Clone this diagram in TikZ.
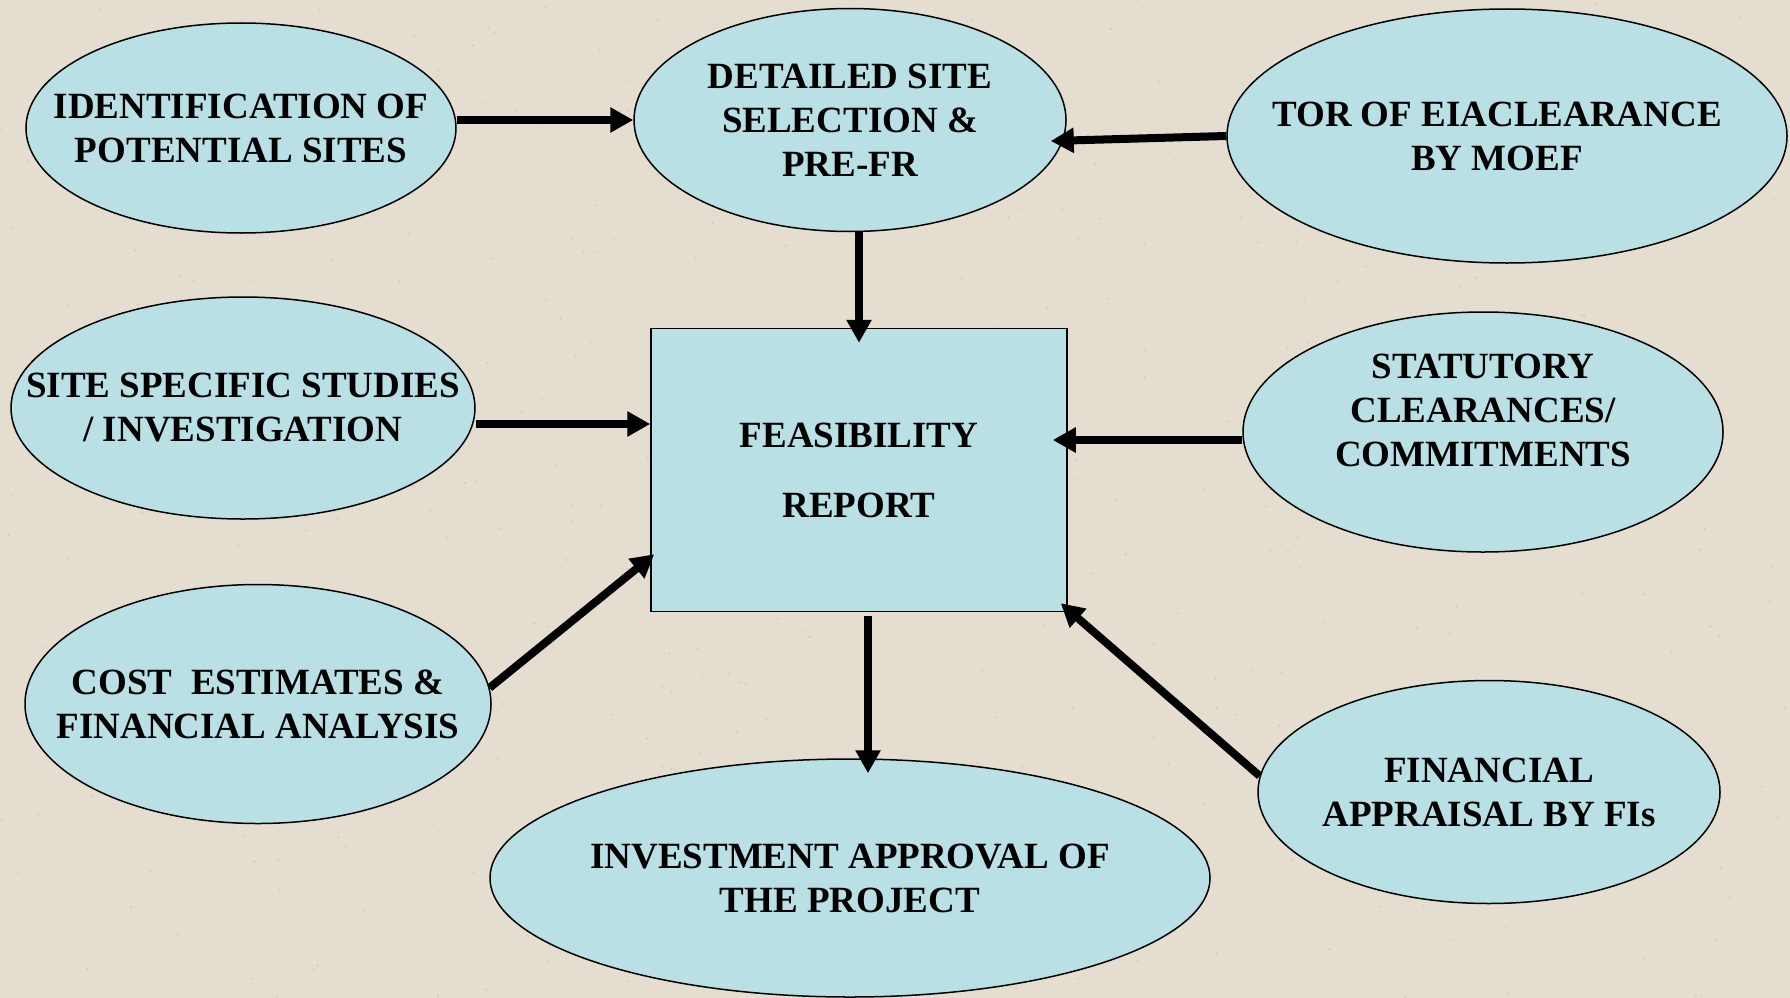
\documentclass[tikz,border=0pt]{standalone}
\usepackage{fontspec}
\setmainfont{Liberation Serif}
\usetikzlibrary{shapes.geometric,arrows.meta,calc}

\definecolor{paper}{RGB}{229,221,207}
\definecolor{speck}{RGB}{196,186,170}
\definecolor{bubblefill}{RGB}{185,224,228}

\tikzset{
    caption/.style={align=center, font=\bfseries\fontsize{37pt}{44pt}\selectfont},
    bubble/.style={ellipse, draw, line width=1.5pt, fill=bubblefill, inner sep=0pt},
    box/.style={rectangle, draw, line width=1.5pt, fill=bubblefill, inner sep=0pt, caption},
    arr/.style={line width=8pt, -{Triangle[length=23pt,width=24pt]}},
}

\begin{document}
\begin{tikzpicture}[x=1pt,y=-1pt]

    \useasboundingbox (0,0) rectangle (1790,998);
    \fill[paper] (0,0) rectangle (1790,998);
    \pgfmathsetseed{7}

    % paper speckles
    \foreach \i in {1,...,450} {
        \fill[speck, opacity=0.45] (rnd*1790, rnd*998) circle (1.3);
    }

    % the bubbles
    \node[bubble, minimum width=430pt, minimum height=210pt] (ident) at (241,128) {};
    \node[bubble, minimum width=432pt, minimum height=223pt] (detail) at (850,120) {};
    \node[bubble, minimum width=560pt, minimum height=254pt] (tor) at (1507,136) {};
    \node[bubble, minimum width=464pt, minimum height=222pt] (site) at (243,408) {};
    \node[bubble, minimum width=480pt, minimum height=240pt] (stat) at (1483,432) {};
    \node[bubble, minimum width=466pt, minimum height=239pt] (cost) at (258,704) {};
    \node[bubble, minimum width=462pt, minimum height=223pt] (fin) at (1489,792) {};
    \node[bubble, minimum width=720pt, minimum height=238pt] (invest) at (850,878) {};

    % their texts
    \node[caption] (identtext) at (ident) {IDENTIFICATION OF\\POTENTIAL SITES};
    \node[caption] (detailtext) at (detail) {DETAILED SITE\\SELECTION \&\\PRE-FR};
    \node[caption] (tortext) at ([xshift=-10pt]tor.center) {TOR OF EIACLEARANCE\\BY MOEF};
    \node[caption] (sitetext) at (site) {SITE SPECIFIC STUDIES\\/ INVESTIGATION};
    \node[caption] (stattext) at ([yshift=22pt]stat.center) {STATUTORY\\CLEARANCES/\\COMMITMENTS};
    \node[caption] (costtext) at (cost) {COST\ \ ESTIMATES \&\\FINANCIAL ANALYSIS};
    \node[caption] (fintext) at (fin) {FINANCIAL\\APPRAISAL BY FIs};
    \node[caption] (investtext) at (invest) {INVESTMENT APPROVAL OF\\THE PROJECT};

    % the report
    \node[box, minimum width=416pt, minimum height=283pt] (report) at (859,470) {FEASIBILITY\\[26pt]REPORT};

    % arrows
    \coordinate (siteIn) at ($(report.west)+(0,-46)$);
    \coordinate (statIn) at ($(report.east)+(-15,-30)$);
    \coordinate (invOut) at ($(report.south)+(9,4)$);

    \draw[arr] (ident.east |- detail.west) -- (detail.west);
    \draw[arr] (tor.west) -- ($(detail.east)+(-16,21)$);
    \draw[arr] (report.north |- detail.south) -- ([yshift=-15pt]report.north);
    \draw[arr] (site.east |- siteIn) -- (siteIn);
    \draw[arr] (stat.west |- statIn) -- (statIn);
    \draw[arr] (cost.4) -- ($(report.south west)+(4,-58)$);
    \draw[arr] (fin.176) -- ($(report.south east)+(-7,-9)$);
    \draw[arr] (invOut) -- ($(invOut |- invest.north)+(0,15)$);

\end{tikzpicture}
\end{document}
